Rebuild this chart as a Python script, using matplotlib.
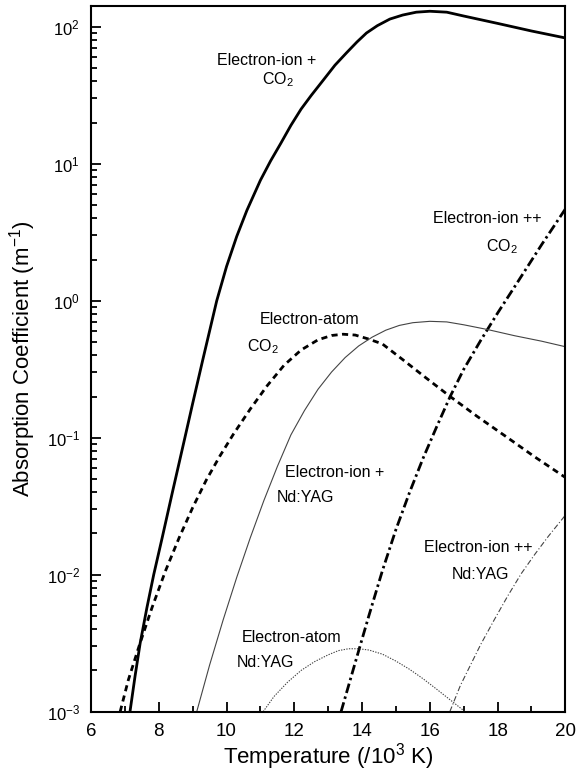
import matplotlib
matplotlib.use("Agg")

import matplotlib.pyplot as plt
from matplotlib.ticker import LogLocator, MultipleLocator, NullFormatter

plt.rcParams["font.family"] = ["Liberation Sans", "DejaVu Sans"]
plt.rcParams["mathtext.fontset"] = "custom"
plt.rcParams["mathtext.rm"] = "Liberation Sans"
plt.rcParams["mathtext.it"] = "Liberation Sans:italic"
plt.rcParams["mathtext.bf"] = "Liberation Sans:bold"

# temperature in 10^3 K, absorption coefficient in 1/m
t_ei_co2 = [7.15, 7.3, 7.45, 7.65, 7.85, 8.1, 8.4, 8.77, 9.0, 9.3, 9.71, 10.0, 10.3,
            10.6, 11.0, 11.3, 11.6, 11.9, 12.2, 12.5, 12.85, 13.2, 13.54, 13.85,
            14.13, 14.45, 14.82, 15.2, 15.6, 16.0, 16.5, 17.0, 18.0, 19.0, 20.0]
k_ei_co2 = [1.00e-3, 1.82e-3, 3.16e-3, 5.75e-3, 1.00e-2, 1.86e-2, 3.98e-2, 0.100,
            0.178, 0.372, 1.00, 1.78, 2.95, 4.57, 7.59, 10.5, 14.1, 19.1, 25.1, 31.6,
            40.7, 52.5, 64.6, 77.6, 90.2, 102, 114, 122, 128, 130, 128, 120, 106,
            93.3, 83.0]

t_ea_co2 = [6.86, 7.1, 7.42, 7.8, 8.2, 8.6, 9.0, 9.4, 9.8, 10.2, 10.7, 11.2, 11.7,
            12.2, 12.7, 13.1, 13.44, 13.8, 14.2, 14.6, 15.2, 15.9, 16.6, 17.4, 18.2,
            19.1, 20.0]
k_ea_co2 = [1.00e-3, 1.70e-3, 3.02e-3, 5.75e-3, 1.07e-2, 1.86e-2, 3.09e-2, 4.90e-2,
            7.33e-2, 0.106, 0.162, 0.240, 0.339, 0.437, 0.519, 0.558, 0.570, 0.562,
            0.525, 0.484, 0.372, 0.272, 0.200, 0.143, 0.104, 0.0724, 0.0513]

t_ei_nd = [9.12, 9.5, 9.9, 10.3, 10.7, 11.1, 11.5, 11.9, 12.3, 12.7, 13.1, 13.5,
           13.9, 14.3, 14.7, 15.1, 15.5, 16.0, 16.5, 17.0, 17.7, 18.5, 19.3, 20.0]
k_ei_nd = [1.00e-3, 2.19e-3, 4.68e-3, 9.55e-3, 1.86e-2, 3.47e-2, 6.17e-2, 0.105,
           0.158, 0.226, 0.302, 0.385, 0.468, 0.543, 0.610, 0.661, 0.692, 0.708,
           0.701, 0.668, 0.617, 0.556, 0.507, 0.462]

t_eii_co2 = [13.38, 13.8, 14.2, 14.6, 15.0, 15.4, 15.8, 16.2, 16.6, 17.0, 17.5,
             18.0, 18.6, 19.3, 20.0]
k_eii_co2 = [1.00e-3, 2.29e-3, 5.01e-3, 1.07e-2, 2.14e-2, 3.98e-2, 7.08e-2, 0.120,
             0.200, 0.316, 0.513, 0.813, 1.38, 2.57, 4.68]

t_ea_nd = [11.08, 11.4, 11.8, 12.2, 12.6, 13.0, 13.3, 13.6, 13.9, 14.2, 14.6, 15.0,
           15.4, 15.8, 16.2, 16.6, 17.04]
k_ea_nd = [1.00e-3, 1.29e-3, 1.64e-3, 2.00e-3, 2.32e-3, 2.60e-3, 2.79e-3, 2.88e-3,
           2.88e-3, 2.82e-3, 2.63e-3, 2.34e-3, 2.04e-3, 1.74e-3, 1.46e-3, 1.22e-3,
           1.00e-3]

t_eii_nd = [16.59, 16.9, 17.2, 17.5, 17.9, 18.3, 18.7, 19.1, 19.5, 20.0]
k_eii_nd = [1.00e-3, 1.55e-3, 2.19e-3, 3.09e-3, 4.68e-3, 7.00e-3, 1.02e-2, 1.41e-2,
            1.91e-2, 2.72e-2]

fig = plt.figure(figsize=(5.82, 7.80), dpi=100)
ax = fig.add_axes([0.1564, 0.0876, 0.815, 0.9047])

thick = 2.0
thin = 0.8
grey = "#444444"

ax.plot(t_ei_co2, k_ei_co2, color="black", lw=thick)
ax.plot(t_ea_co2, k_ea_co2, color="black", lw=thick, linestyle=(0, (2.2, 1.6)))
ax.plot(t_eii_co2, k_eii_co2, color="black", lw=thick,
        linestyle=(0, (3.5, 1.3, 0.9, 1.3)))
ax.plot(t_ei_nd, k_ei_nd, color=grey, lw=thin)
ax.plot(t_ea_nd, k_ea_nd, color=grey, lw=thin, linestyle=(0, (1.2, 1.2)))
ax.plot(t_eii_nd, k_eii_nd, color=grey, lw=thin, linestyle=(0, (5, 2, 1, 2)))

ax.set_yscale("log")
ax.set_xlim(6, 20)
ax.set_ylim(1e-3, 1.42e2)

ax.xaxis.set_major_locator(MultipleLocator(2))
ax.xaxis.set_minor_locator(MultipleLocator(1))
ax.yaxis.set_major_locator(LogLocator(base=10, numticks=10))
ax.yaxis.set_minor_locator(LogLocator(base=10, subs=range(2, 10), numticks=20))
ax.yaxis.set_minor_formatter(NullFormatter())

ax.tick_params(which="both", direction="in", top=False, right=False, width=1.3)
ax.tick_params(which="major", length=7.5, pad=8)
ax.tick_params(which="minor", length=4.5)
ax.tick_params(axis="x", which="major", labelsize=13.5)
ax.tick_params(axis="y", which="major", labelsize=12)

for s in ax.spines.values():
    s.set_linewidth(1.5)

ax.set_xlabel("Temperature (/10$^\\mathregular{3}$ K)", fontsize=16, labelpad=1)
ax.set_ylabel("Absorption Coefficient (m$^\\mathregular{-1}$)", fontsize=16, labelpad=6)

fs = 11.5
sub2 = "CO$_\\mathregular{2}$"
labels = [
    ("Electron-ion +", 11.19, 56.6),
    (sub2, 11.52, 41.0),
    ("Electron-atom", 12.46, 0.733),
    (sub2, 11.08, 0.46),
    ("Electron-ion +", 13.2, 0.0557),
    ("Nd:YAG", 12.34, 0.0366),
    ("Electron-ion ++", 17.68, 4.02),
    (sub2, 18.13, 2.48),
    ("Electron-ion ++", 17.42, 0.0158),
    ("Nd:YAG", 17.51, 0.0100),
    ("Electron-atom", 11.93, 0.00346),
    ("Nd:YAG", 11.16, 0.00227),
]
for txt, x, y in labels:
    ax.text(x, y, txt, fontsize=fs, ha="center", va="center")

fig.savefig("out.png", dpi=100)
plt.close(fig)
